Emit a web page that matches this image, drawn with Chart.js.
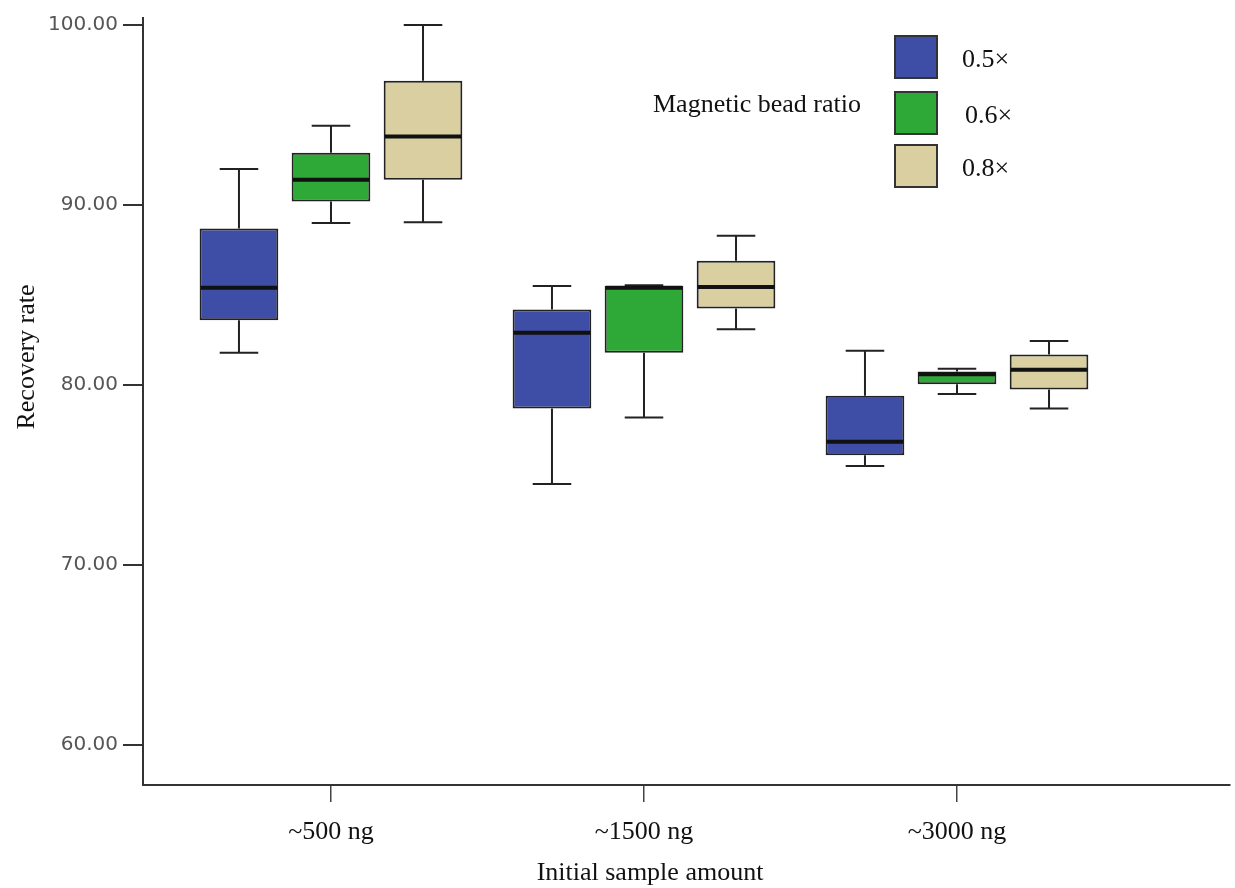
<!DOCTYPE html>
<html>
<head>
<meta charset="utf-8">
<script src="https://cdn.jsdelivr.net/npm/chart.js@4.4.1/dist/chart.umd.min.js"></script>
<style>
  body { margin: 0; background: #fff; }
  #wrap { width: 1235px; height: 888px; position: relative; }
</style>
</head>
<body>
<div id="wrap"><canvas id="boxChart"></canvas></div>
<script>
// Categories and tick labels
const categories = ["~500 ng", "~1500 ng", "~3000 ng"];
const ratios = ["0.5×", "0.6×", "0.8×"];
const yTicks = [60, 70, 80, 90, 100];

// Box plot values per ratio: min, q1, median, q3, max (one value per category)
const minA = [81.8, 74.5, 75.5];
const q1A = [83.6, 78.7, 76.1];
const medA = [85.4, 82.9, 76.85];
const q3A = [88.7, 84.2, 79.4];
const maxA = [92.0, 85.5, 81.9];

const minB = [89.0, 78.2, 79.5];
const q1B = [90.2, 81.8, 80.05];
const medB = [91.4, 85.4, 80.6];
const q3B = [92.9, 85.5, 80.75];
const maxB = [94.4, 85.55, 80.9];

const minC = [89.05, 83.1, 78.7];
const q1C = [91.4, 84.25, 79.75];
const medC = [93.8, 85.45, 80.85];
const q3C = [96.9, 86.9, 81.7];
const maxC = [100.0, 88.3, 82.45];

const colors = ["#3e4ea6", "#2ea837", "#d9cfa0"];

const stats = [
  { min: minA, q1: q1A, med: medA, q3: q3A, max: maxA },
  { min: minB, q1: q1B, med: medB, q3: q3B, max: maxB },
  { min: minC, q1: q1C, med: medC, q3: q3C, max: maxC },
];

// Build floating bar datasets (q1..q3) on a linear x axis (1, 2, 3)
const datasets = stats.map(function (s, d) {
  return {
    label: ratios[d],
    data: categories.map((c, i) => ({ x: i + 1, y: [s.q1[i], s.q3[i]] })),
    backgroundColor: colors[d],
    borderColor: "#222",
    borderWidth: 2,
    borderSkipped: false,
    categoryPercentage: 0.882,
    barPercentage: 0.855,
  };
});

// Whiskers, caps and medians drawn from the bar elements + y scale
const boxPlugin = {
  id: "boxParts",
  afterDatasetsDraw(chart) {
    const ctx = chart.ctx;
    const y = chart.scales.y;
    ctx.save();
    chart.data.datasets.forEach(function (ds, d) {
      const meta = chart.getDatasetMeta(d);
      const s = stats[d];
      meta.data.forEach(function (bar, i) {
        const cx = bar.x;
        const half = bar.width / 2;
        const cap = bar.width * 0.245;
        const yMin = y.getPixelForValue(s.min[i]);
        const yQ1 = y.getPixelForValue(s.q1[i]);
        const yQ3 = y.getPixelForValue(s.q3[i]);
        const yMax = y.getPixelForValue(s.max[i]);
        const yMed = y.getPixelForValue(s.med[i]);
        ctx.strokeStyle = "#222";
        ctx.lineWidth = 2;
        ctx.beginPath();
        ctx.moveTo(cx, yMax); ctx.lineTo(cx, yQ3);
        ctx.moveTo(cx, yQ1); ctx.lineTo(cx, yMin);
        ctx.moveTo(cx - cap, yMax); ctx.lineTo(cx + cap, yMax);
        ctx.moveTo(cx - cap, yMin); ctx.lineTo(cx + cap, yMin);
        ctx.stroke();
        ctx.strokeStyle = "#111";
        ctx.lineWidth = 4;
        ctx.beginPath();
        ctx.moveTo(cx - half + 1, yMed); ctx.lineTo(cx + half - 1, yMed);
        ctx.stroke();
      });
    });
    ctx.restore();
  },
  afterDraw(chart) {
    const ctx = chart.ctx;
    ctx.save();
    ctx.fillStyle = "#111";
    ctx.font = "26px 'Liberation Serif'";
    ctx.textBaseline = "middle";
    // axis titles
    ctx.textAlign = "center";
    ctx.fillText("Initial sample amount", 650, 873);
    ctx.save();
    ctx.translate(27, 357);
    ctx.rotate(-Math.PI / 2);
    ctx.fillText("Recovery rate", 0, 0);
    ctx.restore();
    // legend
    ctx.textAlign = "left";
    ctx.fillText("Magnetic bead ratio", 653, 105);
    const boxTops = [36, 92, 145];
    const labelX = [962, 965, 962];
    chart.data.datasets.forEach(function (ds, d) {
      ctx.fillStyle = ds.backgroundColor;
      ctx.fillRect(895, boxTops[d], 42, 42);
      ctx.strokeStyle = "#333";
      ctx.lineWidth = 2;
      ctx.strokeRect(895, boxTops[d], 42, 42);
      ctx.fillStyle = "#111";
      ctx.fillText(ds.label, labelX[d], boxTops[d] + 24);
    });
    ctx.restore();
  },
};

function renderBoxChart() {
  const ctx = document.getElementById("boxChart").getContext("2d");
  new Chart(ctx, {
    type: "bar",
    data: { datasets: datasets },
    plugins: [boxPlugin],
    options: {
      responsive: true,
      maintainAspectRatio: false,
      animation: false,
      layout: { padding: { top: 18, right: 5, left: 0, bottom: 0 } },
      plugins: { legend: { display: false }, tooltip: { enabled: false } },
      scales: {
        x: {
          type: "linear",
          offset: false,
          min: 0.3994,
          max: 3.8722,
          afterBuildTicks: (scale) => {
            scale.ticks = categories.map((c, i) => ({ value: i + 1 }));
          },
          afterFit: (scale) => { scale.height = 103; },
          ticks: {
            callback: (v) => categories[v - 1],
            font: { family: "Liberation Serif", size: 26 },
            color: "#111",
            padding: 15,
            maxRotation: 0,
            autoSkip: false,
          },
          grid: {
            offset: false,
            drawOnChartArea: false,
            tickLength: 17,
            color: "#444",
            lineWidth: 1.5,
          },
          border: { display: true, color: "#333", width: 2 },
        },
        y: {
          min: 57.78,
          max: 100.39,
          afterBuildTicks: (scale) => {
            scale.ticks = yTicks.map((v) => ({ value: v }));
          },
          afterFit: (scale) => { scale.width = 143; },
          ticks: {
            callback: (v) => Number(v).toFixed(2),
            font: { family: "DejaVu Sans", size: 20 },
            color: "#555",
            padding: 5,
          },
          grid: {
            drawOnChartArea: false,
            tickLength: 20,
            color: "#333",
            lineWidth: 2,
          },
          border: { display: true, color: "#333", width: 2 },
        },
      },
    },
  });
}

renderBoxChart();
</script>
</body>
</html>
